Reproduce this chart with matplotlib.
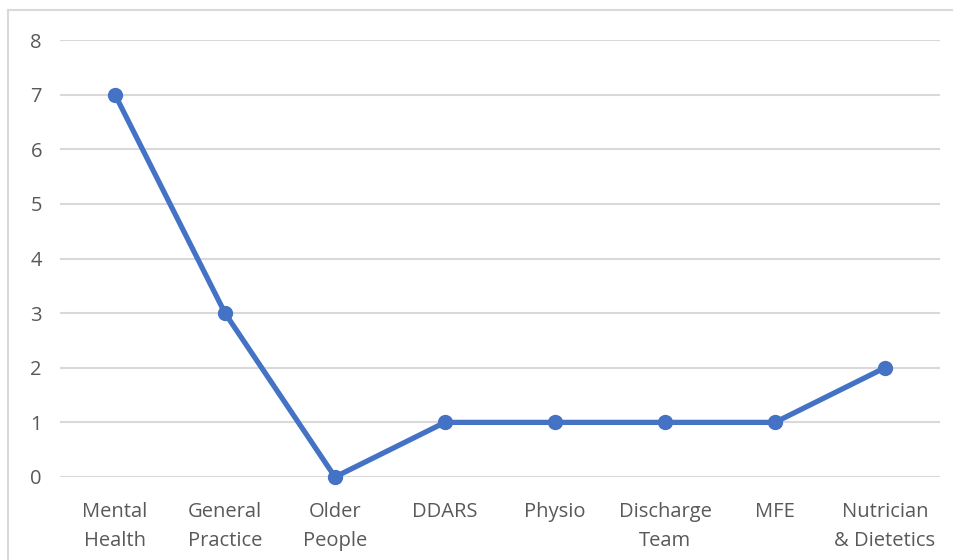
import matplotlib
matplotlib.use("Agg")
import matplotlib.pyplot as plt
from matplotlib.lines import Line2D

categories = ["Mental\nHealth", "General\nPractice", "Older\nPeople", "DDARS",
              "Physio", "Discharge\nTeam", "MFE", "Nutrician\n& Dietetics"]
values = [7, 3, 0, 1, 1, 1, 1, 2]
y_ticks = [0, 1, 2, 3, 4, 5, 6, 7, 8]

plt.rcParams["font.family"] = ["Open Sans", "DejaVu Sans"]

fig = plt.figure(figsize=(9.54, 5.6), dpi=100)
ax = fig.add_axes([60 / 954, 1 - 477 / 560, 880 / 954, 437 / 560])

x = list(range(len(categories)))
ax.plot(x, values, color="#4472C4", linewidth=3.8, marker="o", markersize=10,
        solid_capstyle="round", zorder=3, clip_on=False)

ax.set_xlim(-0.5, len(categories) - 0.5)
ax.set_ylim(0, 8)
ax.set_yticks(y_ticks)
ax.set_xticks(x)
ax.set_xticklabels(categories, fontsize=14.5, color="#595959", linespacing=1.62)
ax.tick_params(axis="y", labelsize=14.5, labelcolor="#595959", length=0, pad=13)
ax.tick_params(axis="x", length=0, pad=18)
ax.grid(axis="y", color="#D9D9D9", linewidth=1.5, zorder=0)
ax.set_axisbelow(True)
for s in ax.spines.values():
    s.set_visible(False)

# chart area frame (top and left edges)
fig.add_artist(Line2D([8 / 954, 8 / 954], [0, 1 - 10 / 560], transform=fig.transFigure,
                      color="#D9D9D9", linewidth=1.5))
fig.add_artist(Line2D([8 / 954, 1], [1 - 10 / 560, 1 - 10 / 560], transform=fig.transFigure,
                      color="#D9D9D9", linewidth=1.5))

fig.savefig("out.png", dpi=100, facecolor="white")
